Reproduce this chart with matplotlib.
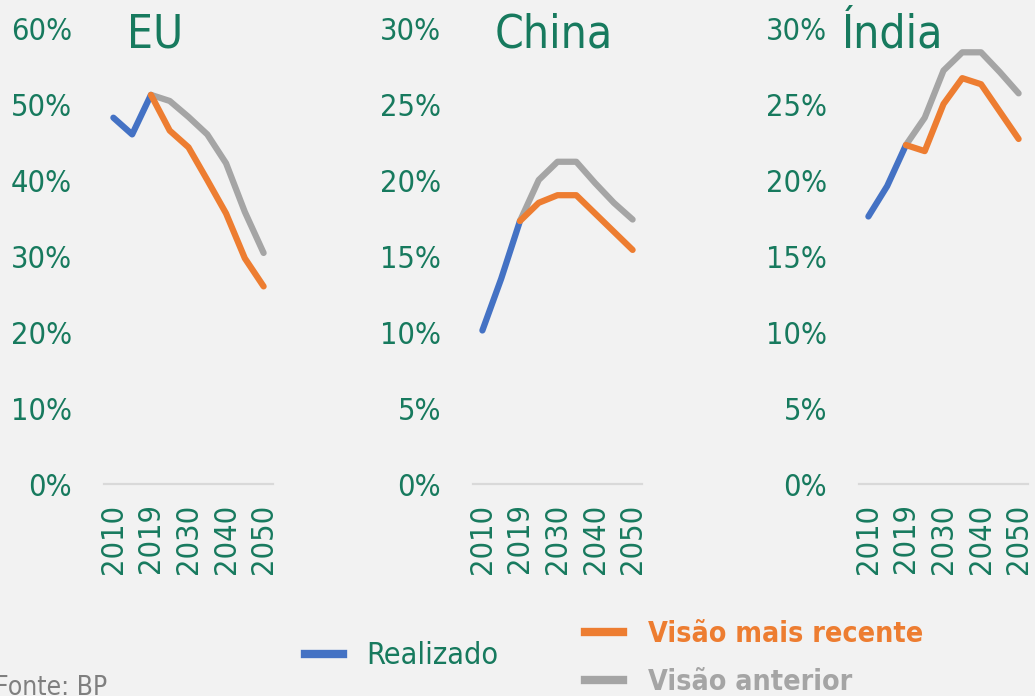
import matplotlib
matplotlib.use("Agg")
import matplotlib.pyplot as plt
from matplotlib.lines import Line2D

# categorias do eixo x (so metade recebe rotulo)
years = ["2010", "2015", "2019", "2025", "2030", "2035", "2040", "2045", "2050"]
tick_years = ["2010", "2019", "2030", "2040", "2050"]

regions = ["EU", "China", "Índia"]

# realizado: 2010 - 2019
eu_real = [48.2, 46.0, 51.2]
china_real = [10.1, 13.5, 17.3]
india_real = [17.6, 19.6, 22.3]

# visao mais recente: 2019 - 2050
eu_new = [51.2, 46.5, 44.3, 40.0, 35.6, 29.7, 26.0]
china_new = [17.3, 18.5, 19.0, 19.0, 17.8, 16.6, 15.4]
india_new = [22.3, 21.9, 25.0, 26.7, 26.3, 24.5, 22.7]

# visao anterior: 2019 - 2050
eu_old = [51.2, 50.4, 48.3, 46.0, 42.2, 35.8, 30.4]
china_old = [17.3, 20.0, 21.2, 21.2, 19.8, 18.5, 17.4]
india_old = [22.3, 24.1, 27.2, 28.4, 28.4, 27.1, 25.7]

ymax = [60, 30, 30]
ystep = [10, 5, 5]

BG = "#F2F2F2"
GREEN = "#177A5E"
BLUE = "#4472C4"
ORANGE = "#ED7D31"
GRAY = "#A5A5A5"

plt.rcParams["font.family"] = ["DejaVu Sans"]
plt.rcParams["font.stretch"] = "condensed"

fig = plt.figure(figsize=(10.35, 6.96), dpi=100, facecolor=BG)

lefts = [104 / 1035, 473 / 1035, 859 / 1035]
title_x = [155 / 1035, 554 / 1035, 893 / 1035]
real_all = [eu_real, china_real, india_real]
new_all = [eu_new, china_new, india_new]
old_all = [eu_old, china_old, india_old]

for i, name in enumerate(regions):
    ax = fig.add_axes([lefts[i], 1 - 484 / 696, 169 / 1035, 456 / 696])
    ax.set_facecolor(BG)
    x_real = list(range(len(real_all[i])))
    x_proj = list(range(2, len(years)))
    ax.plot(x_real, real_all[i], color=BLUE, lw=4.5, solid_capstyle="round", clip_on=False)
    ax.plot(x_proj, old_all[i], color=GRAY, lw=4.5, solid_capstyle="round", clip_on=False)
    ax.plot(x_proj, new_all[i], color=ORANGE, lw=4.5, solid_capstyle="round", clip_on=False)

    ax.set_xlim(-0.5, len(years) - 0.5)
    ax.set_ylim(0, ymax[i])
    yt = list(range(0, ymax[i] + 1, ystep[i]))
    ax.set_yticks(yt)
    ax.set_yticklabels([f"{v}%" for v in yt])
    ax.set_xticks([years.index(y) for y in tick_years])
    ax.set_xticklabels(tick_years, rotation=90)
    ax.tick_params(axis="y", length=0, pad=23, labelsize=22, labelcolor=GREEN)
    ax.tick_params(axis="x", length=0, pad=14, labelsize=22, labelcolor=GREEN)
    for s in ["top", "right", "left"]:
        ax.spines[s].set_visible(False)
    ax.spines["bottom"].set_color("#D9D9D9")
    ax.spines["bottom"].set_linewidth(1.6)

    fig.text(title_x[i], 1 - 47 / 696, name, ha="center", va="baseline",
             fontsize=33, color=GREEN)

# legenda
h_real = Line2D([], [], color=BLUE, lw=6)
h_new = Line2D([], [], color=ORANGE, lw=6)
h_old = Line2D([], [], color=GRAY, lw=6)
leg_kw = dict(frameon=False, loc="center left", borderpad=0, borderaxespad=0)
fig.legend([h_real], ["Realizado"], bbox_to_anchor=(305 / 1035, 1 - 656 / 696),
           labelcolor=GREEN, prop={"size": 22, "stretch": "condensed"},
           handlelength=1.24, handletextpad=0.78, **leg_kw)
fig.legend([h_new], ["Visão mais recente"], bbox_to_anchor=(585 / 1035, 1 - 634 / 696),
           labelcolor=ORANGE, prop={"weight": "bold", "size": 20.5, "stretch": "condensed"},
           handlelength=1.33, handletextpad=0.88, **leg_kw)
fig.legend([h_old], ["Visão anterior"], bbox_to_anchor=(585 / 1035, 1 - 682 / 696),
           labelcolor=GRAY, prop={"weight": "bold", "size": 20.5, "stretch": "condensed"},
           handlelength=1.33, handletextpad=0.88, **leg_kw)

fig.text(-5 / 1035, 1 - 695 / 696, "Fonte: BP", ha="left", va="baseline",
         fontsize=19, color="#7F7F7F")

fig.savefig("out.png", dpi=100, facecolor=BG)
